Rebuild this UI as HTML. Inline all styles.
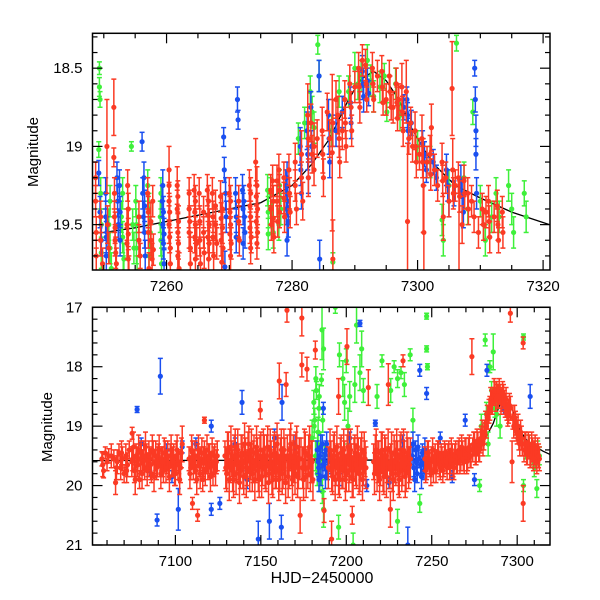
<!DOCTYPE html>
<html><head><meta charset="utf-8">
<style>
html,body{margin:0;padding:0;background:#fff;}
svg{display:block;}
text{font-family:"Liberation Sans",sans-serif;fill:#000;}
</style></head>
<body>
<svg id="chart" width="600" height="600" viewBox="0 0 600 600" xmlns="http://www.w3.org/2000/svg">
<defs>
<clipPath id="clipTop"><rect x="92.5" y="33.3" width="457.5" height="236.7"/></clipPath>
<clipPath id="clipBot"><rect x="92.5" y="307.3" width="457.5" height="237.7"/></clipPath>
</defs>
<g id="topPanel"></g>
<g id="botPanel"></g>
</svg>
<script>
// ---------- data ----------
const modelCurve = [[7050,19.58],[7240,19.57],[7250,19.55],[7255,19.52],[7260,19.48],[7265,19.44],[7270,19.4],[7275,19.36],[7280,19.25],[7283,19.12],[7286,18.95],[7289,18.7],[7291,18.57],[7293,18.52],[7295,18.58],[7297,18.7],[7299,18.88],[7301,19.02],[7303,19.13],[7306,19.25],[7310,19.33],[7315,19.42],[7321,19.5]];

const topRed = [[7249.5,19.45,.1],[7249.5,19.6,.1],[7249.8,19.75,.1],[7250.5,19.0,.3],[7250.6,19.5,.12],[7250.8,19.65,.1],
[7251.6,18.75,.18],[7251.6,19.07,.06],[7251.7,19.45,.1],[7251.8,19.6,.1],[7252,19.75,.1],
[7253.7,19.5,.1],[7253.7,19.62,.1],[7253.9,19.72,.08],[7255.6,19.45,.1],[7255.6,19.6,.1],[7255.8,19.7,.08],
[7257.5,19.48,.12],[7257.5,19.6,.1],[7257.7,19.72,.1],
[7260.4,19.15,.15],[7260.4,19.35,.12],[7260.4,19.5,.12],[7260.6,19.65,.1],[7260.6,19.75,.1],
[7261.7,19.25,.12],[7261.7,19.4,.12],[7261.8,19.55,.12],[7261.8,19.7,.1],
[7263.6,19.4,.12],[7263.6,19.55,.1],[7263.8,19.65,.1],[7263.8,19.75,.08],
[7264.6,19.35,.1],[7264.6,19.5,.1],[7264.8,19.62,.1],[7265.9,19.42,.1],[7265.9,19.55,.1],[7266,19.68,.1],
[7266.7,19.35,.1],[7266.8,19.5,.1],[7266.8,19.62,.1],[7267.8,19.38,.1],[7267.8,19.5,.1],[7268,19.62,.1],
[7268.9,19.4,.1],[7268.9,19.52,.1],[7269,19.65,.1],[7270.2,19.35,.1],[7270.2,19.5,.1],[7270.3,19.62,.1],
[7271.5,19.35,.1],[7271.5,19.48,.1],[7271.6,19.6,.1],[7273.4,19.3,.1],[7273.4,19.45,.1],[7273.5,19.58,.1],
[7274.4,19.25,.12],[7274.5,19.4,.1],[7274.5,19.55,.1],[7276.6,19.28,.1],[7276.6,19.4,.1],[7276.7,19.5,.1],
[7277.6,19.22,.1],[7277.6,19.35,.1],[7277.7,19.48,.1],[7278.7,19.2,.1],[7278.7,19.33,.1],[7278.8,19.45,.1],
[7280.5,19.1,.12],[7280.5,19.25,.1],[7280.7,19.4,.1],[7281.5,19.05,.15],[7281.5,19.2,.1],[7281.7,19.35,.12],
[7282.5,18.8,.2],[7282.6,18.95,.15],[7282.6,19.2,.12],[7283.5,19.0,.15],[7283.5,19.15,.1],
[7284.8,18.9,.15],[7284.9,19.05,.12],[7285,19.2,.12],[7286.4,19.04,.5],[7286.5,18.85,.15],[7286.5,19.72,.25],
[7287.3,18.8,.12],[7287.5,18.95,.12],[7287.6,19.1,.1],[7288.4,18.7,.12],[7288.5,18.85,.1],[7288.6,19.0,.1],
[7289.2,18.6,.12],[7289.4,18.75,.1],[7289.5,18.9,.1],[7290.6,18.5,.1],[7290.7,18.62,.1],[7290.8,18.75,.1],
[7291.7,18.48,.1],[7291.8,18.6,.1],[7291.9,18.7,.08],[7292.8,18.5,.1],[7292.9,18.6,.08],[7293,18.7,.08],
[7294.3,18.52,.1],[7294.4,18.62,.1],[7294.5,18.72,.08],[7295.5,18.55,.1],[7295.6,18.65,.1],[7295.8,18.75,.08],
[7296.6,18.6,.1],[7296.7,18.72,.1],[7296.8,18.82,.08],[7297.5,18.62,.15],[7297.6,18.78,.1],[7297.7,18.9,.1],
[7298.2,18.65,.2],[7298.4,19.48,.5],[7298.6,18.95,.1],[7299.6,18.9,.12],[7299.7,19.0,.1],[7299.8,19.1,.1],
[7300.7,18.95,.15],[7300.8,19.1,.1],[7300.9,19.25,.3],[7301,19.55,.3],[7302,19.05,.12],[7302.1,19.18,.1],[7302.2,18.88,.15],
[7303.9,19.1,.12],[7304,19.22,.1],[7304.1,19.45,.15],[7305.5,18.63,.3],[7305.6,19.15,.2],[7305.7,19.3,.1],
[7306.5,19.2,.1],[7306.7,19.32,.1],[7306.6,19.8,.5],[7307.4,19.22,.1],[7307.5,19.3,.1],[7307.1,19.5,.12],
[7308,19.3,.1],[7308.1,19.4,.1],[7310.3,19.4,.1],[7310.5,19.5,.1],[7311.3,19.35,.1],[7311.4,19.48,.1],[7311.5,19.58,.1],
[7312.7,19.38,.1],[7312.8,19.5,.1],[7312.9,19.6,.08],[7313.5,19.42,.1],[7313.6,19.55,.1]];

const topRedExtra = [[7248.7,19.2,.1],[7248.7,19.35,.1],[7248.8,19.55,.1],[7248.8,19.7,.1],
[7251.7,19.3,.1],[7251.8,19.52,.1],[7251.9,19.68,.1],[7253.8,19.25,.1],[7253.9,19.4,.1],[7253.9,19.56,.1],[7254,19.8,.1],
[7257,19.3,.1],[7257.1,19.42,.1],[7257.1,19.55,.1],[7257.2,19.78,.1],[7257.8,19.35,.1],[7257.9,19.66,.1],
[7260.4,19.25,.1],[7260.5,19.42,.1],[7260.5,19.58,.1],[7261.8,19.32,.1],[7261.9,19.48,.1],[7261.9,19.62,.1],[7262,19.78,.1],
[7263.6,19.3,.1],[7263.7,19.48,.1],[7264.4,19.28,.1],[7264.5,19.42,.1],[7264.5,19.58,.1],[7264.6,19.72,.1],
[7265.2,19.3,.1],[7265.3,19.48,.1],[7265.3,19.6,.1],[7265.4,19.75,.1],[7266.5,19.28,.1],[7266.6,19.44,.1],[7266.6,19.58,.1],[7266.7,19.72,.1],
[7267.3,19.3,.1],[7267.4,19.45,.1],[7267.4,19.58,.1],[7267.5,19.7,.1],[7268.6,19.32,.1],[7268.7,19.46,.1],[7268.7,19.6,.1],[7268.8,19.74,.1],
[7270,19.3,.1],[7270.1,19.42,.1],[7270.1,19.56,.1],[7270.2,19.7,.1],[7273.2,19.25,.1],[7273.3,19.38,.1],[7273.3,19.52,.1],[7273.4,19.65,.1],
[7274.2,19.1,.15],[7274.3,19.32,.1],[7274.3,19.48,.1],[7274.4,19.62,.1],[7276.9,19.22,.1],[7277,19.35,.1],[7277,19.46,.1],[7277.1,19.58,.1],
[7277.9,19.15,.1],[7278,19.28,.1],[7278,19.42,.1],[7279.5,19.15,.1],[7279.6,19.3,.1],[7279.7,19.42,.1],
[7283,18.85,.12],[7283.2,19.05,.12],[7284,18.95,.12],[7285.6,18.78,.12],[7286,18.95,.12],[7287,18.7,.12],[7288,18.9,.12],
[7290,18.62,.1],[7291.2,18.45,.1],[7293.6,18.55,.1],[7295,18.7,.1],[7296.1,18.75,.1],[7297,18.7,.1],[7298.9,18.85,.1],[7299.2,19.0,.1],
[7300.3,19.05,.1],[7301.5,19.1,.1],[7302.7,19.15,.1],[7303.2,19.25,.1],[7304.5,19.2,.1],[7305,19.35,.1],[7306,19.25,.1],[7308.6,19.35,.1],
[7309,19.45,.1],[7309.7,19.55,.1],[7310.9,19.42,.1],[7312.2,19.45,.1]];

const topBlue = [[7249.2,19.17,.08],[7249.4,19.42,.1],[7249.6,19.6,.1],[7250.3,19.45,.1],[7250.5,19.55,.1],[7250.4,19.7,.1],
[7252.1,19.2,.1],[7252.2,19.35,.1],[7252.3,19.5,.1],[7256.1,18.97,.06],[7256.2,19.3,.1],[7256.3,19.45,.1],
[7259.3,19.35,.1],[7259.4,19.5,.1],[7259.5,19.62,.1],[7259.6,19.75,.1],[7269.1,18.94,.06],[7269.2,19.15,.08],[7269.3,19.77,.1],
[7271.3,18.7,.08],[7271.4,18.83,.06],[7272.3,19.35,.1],[7272.4,19.45,.1],[7272.5,19.55,.1],
[7279.2,19.2,.1],[7279.3,19.35,.1],[7279.4,19.48,.1],[7281.3,19.0,.12],[7281.4,19.15,.1],[7281.5,19.3,.1],
[7282.4,18.9,.12],[7282.5,19.05,.1],[7282.6,19.2,.1],[7284.3,18.55,.1],[7284.4,19.72,.12],
[7285.8,18.8,.1],[7285.9,18.95,.1],[7286,19.1,.1],[7289.3,18.72,.1],[7289.4,18.85,.1],
[7291.2,18.52,.1],[7291.3,18.6,.1],[7291.4,18.68,.1],[7298.3,18.7,.08],[7298.4,18.8,.08],[7298.5,18.9,.08],
[7300.8,18.98,.08],[7301.1,19.05,.08],[7301.4,19.15,.08],[7304.6,19.15,.1],[7304.8,19.25,.1],[7305,19.35,.1],
[7306.9,19.22,.1],[7307.1,19.32,.1],[7307.3,19.42,.1],[7309.1,18.5,.05],[7309.2,18.7,.08],[7309.3,18.9,.1],[7309.3,19.05,.1],[7309.4,19.3,.1]];

const topBlueExtra = [[7250.3,19.3,.1],[7250.4,19.58,.1],[7252.5,19.25,.1],[7252.6,19.42,.1],[7252.6,19.6,.1],
[7256.4,19.2,.1],[7256.5,19.38,.1],[7256.5,19.55,.1],[7256.6,19.7,.1],[7259.4,19.25,.1],[7259.5,19.42,.1],[7259.6,19.56,.1],
[7269.4,19.3,.1],[7269.5,19.45,.1],[7271,19.3,.1],[7271.1,19.45,.1],[7271.1,19.58,.1],[7272.1,19.28,.1],[7272.2,19.4,.1],[7272.2,19.62,.1],
[7279,19.25,.1],[7279.1,19.4,.1],[7279.2,19.6,.1],[7283,18.75,.1],[7283.1,19.0,.1],[7287,18.9,.1],[7288,18.78,.1],
[7292,18.58,.08],[7292.2,18.66,.08],[7297.8,18.75,.08],[7299,18.85,.08],[7302.5,19.1,.08],[7303,19.2,.08],[7305.8,19.3,.08]];

const topGreen = [[7249.3,18.5,.04],[7249.3,18.62,.06],[7249.4,18.7,.05],[7249.2,19.02,.05],
[7250.8,19.5,.1],[7251,19.65,.1],[7251.2,19.78,.1],[7252.8,19.45,.1],[7253,19.58,.1],[7253.2,19.72,.1],
[7254.4,19.0,.03],[7254.6,19.5,.1],[7254.8,19.65,.1],[7257,19.25,.1],[7257.2,19.4,.1],[7257.4,19.55,.1],
[7259,19.45,.1],[7259.1,19.6,.1],[7259.2,19.75,.1],[7276.6,19.3,.1],[7276.8,19.45,.1],[7277,19.55,.1],
[7278,19.25,.1],[7278.2,19.4,.1],[7282.9,18.65,.1],[7283.2,18.78,.1],[7283.5,18.88,.1],
[7284.1,18.35,.06],[7284.3,18.55,.1],[7286.3,18.9,.1],[7286.5,19.74,.06],[7287.5,18.65,.1],[7288,18.78,.1],
[7290,18.5,.1],[7290.5,18.6,.1],[7292,18.45,.1],[7292.5,18.58,.1],[7293,18.68,.1],
[7294.7,18.55,.08],[7295.1,18.78,.06],[7296.5,18.6,.1],[7303.9,19.47,.1],[7304.1,19.6,.1],
[7306.2,18.34,.05],[7307.4,19.2,.1],[7308.8,18.78,.08],[7310,19.35,.1],[7310.5,19.5,.1],[7310.8,19.6,.1],
[7312.5,19.3,.1],[7313,19.45,.1],[7314.5,19.25,.1],[7315,19.4,.1],[7315.3,19.55,.1],[7317,19.3,.08],[7317.3,19.45,.1]];

const topGreenExtra = [[7249.5,19.3,.1],[7249.6,19.5,.1],[7249.6,19.68,.1],[7251,19.35,.1],[7253,19.3,.1],[7253.1,19.8,.1],
[7255.1,19.35,.1],[7255.2,19.5,.1],[7255.2,19.65,.1],[7255.3,19.8,.1],[7257.2,19.7,.1],[7259.1,19.3,.1],
[7276.1,19.28,.1],[7276.2,19.42,.1],[7276.2,19.56,.1],[7277.9,19.5,.1],[7281,18.95,.1],[7282,18.85,.1],
[7289,18.65,.1],[7291,18.55,.1],[7294,18.62,.1],[7297.2,18.8,.1],[7300,19.0,.1],[7302,19.1,.1],[7305,19.25,.1],[7308,19.4,.1],[7311.8,19.45,.1]];

const botGreen = [[7180,19.2,.3],[7181,18.6,.2],[7181.5,18.9,.2],[7182,19.5,.25],[7182.5,18.4,.15],[7183,19.8,.2],[7183.5,19.1,.25],
[7184,18.7,.2],[7184.5,19.9,.2],[7185,19.4,.3],[7185.8,17.38,.5],[7185.5,18.22,.1],[7186,20.1,.2],[7186.7,17.7,.35],[7186.7,20.4,.3],
[7193.6,17.0,.1],[7195.5,20.7,.2],[7198,18.2,.3],[7200,17.9,.2],[7202,18.5,.25],[7204,21.0,.2],[7206,17.3,.3],[7208,18.1,.3],[7210,18.4,.2],
[7220.9,17.9,.1],[7228,18.0,.1],[7230,18.2,.15],[7230,20.6,.2],[7232,18.1,.1],[7237.4,17.8,.1],[7243,20.3,.15],
[7247,17.15,.05],[7247,17.7,.05],[7247.5,18.0,.05],[7278,20.0,.1],[7281.3,17.55,.1],[7284,18.0,.1],[7285,18.4,.15],
[7286,17.75,.3],[7287,18.7,.15],[7289,18.5,.2],[7303.7,17.5,.05],[7303.7,20.0,.1],[7307,19.3,.15],[7309,19.5,.15],[7311.5,20.05,.15],[7312,19.4,.15],
[7181.2,19.0,.2],[7182.2,18.2,.2],[7183.2,19.3,.2],[7184.2,18.5,.2],[7185.2,19.7,.2],[7186.2,18.9,.2],[7187.2,19.5,.2],
[7196,17.8,.2],[7199,18.6,.3],[7201,19.0,.3],[7205,18.3,.3],[7209,17.7,.3],[7218,18.5,.2],[7226,18.4,.2],[7234,18.3,.2],[7239,18.9,.2],
[7279,19.0,.2],[7282,18.8,.2],[7283,19.3,.2],[7288,18.8,.2],[7290,19.0,.2],[7305,19.4,.15],[7310,19.7,.15],[7313,19.5,.15]];

const botBlue = [[7077.6,18.72,.05],[7080,19.3,.1],[7085,19.75,.1],[7089.3,20.58,.1],[7091.2,18.16,.3],[7095,19.4,.1],[7098,19.85,.1],
[7101.7,20.4,.35],[7104,19.35,.1],[7112,19.3,.1],[7121,19.0,.1],[7121,20.4,.1],[7126,20.3,.1],[7135,19.3,.1],[7139,18.6,.2],
[7142,19.9,.15],[7148.5,20.9,.3],[7155,20.6,.3],[7158,19.2,.15],[7162.4,18.6,.3],[7162,20.7,.2],[7170,19.3,.15],
[7183,19.4,.15],[7183.8,19.7,.15],[7184.5,19.5,.15],[7185.2,19.85,.15],[7186,19.3,.15],[7186.6,18.7,.1],[7187.2,19.6,.15],[7188,19.4,.15],[7189,19.75,.15],
[7190,19.5,.1],[7196,19.9,.1],[7202,19.2,.1],[7208,17.27,.05],[7212,20.0,.1],[7217,18.95,.05],[7225,19.95,.1],[7233,19.25,.1],
[7236,21.0,.3],[7238.5,19.5,.15],[7239.5,19.7,.15],[7240.5,19.4,.15],[7241.5,19.8,.15],[7242.5,19.55,.15],[7243,18.06,.1],[7243.5,19.65,.15],[7244.5,19.45,.15],[7245.5,19.75,.15],
[7247,18.45,.1],[7255,19.2,.1],[7262,19.85,.1],[7269.6,18.9,.1],[7275,19.9,.1],[7282.3,18.06,.1],[7292,18.7,.1],[7300,19.1,.1],[7307.6,18.5,.2],
[7183.5,19.6,.2],[7184,19.9,.2],[7185,19.35,.2],[7186.3,19.65,.2],[7187.8,19.85,.2],[7188.5,19.3,.2],[7189.5,19.6,.2],
[7239,19.3,.2],[7240,19.9,.2],[7241,19.6,.2],[7242,19.35,.2],[7244,19.85,.2],[7245,19.6,.2],[7246,19.4,.2]];

const botRed = [[7057,19.55,.12],[7058,19.75,.12],[7059,19.45,.1],[7060,19.6,.15],[7061,19.5,.12],
[7064,19.55,.15],[7065,19.95,.2],[7066,19.6,.2],[7067,19.45,.15],[7068,19.7,.2],[7069,19.55,.2],[7070,19.8,.15],[7071,19.5,.2],[7072,19.65,.2],[7073,19.4,.15],
[7074.7,19.12,.1],[7075,19.55,.2],[7076,19.75,.2],[7077,19.5,.2],[7078,19.65,.2],[7079,19.9,.15],[7080,19.45,.2],[7081,19.6,.2],[7082,19.7,.2],[7083,19.5,.2],
[7084,19.65,.2],[7085,19.55,.2],[7086,19.8,.15],[7087,19.45,.2],[7088,19.6,.2],[7089,19.7,.2],[7090,19.5,.2],[7091,19.65,.2],[7092,19.55,.2],[7093,19.75,.2],
[7094,19.45,.2],[7095,19.6,.2],[7096,19.7,.2],[7097,19.5,.2],[7098,19.65,.2],[7099,19.55,.25],[7100,19.8,.2],[7101,19.4,.25],[7102,19.6,.2],[7103,19.7,.25],[7104,19.3,.3],
[7108,19.55,.2],[7109,19.7,.2],[7110,19.45,.2],[7110,20.3,.1],[7111,19.6,.2],[7112,19.75,.2],[7113,19.5,.2],[7113,20.5,.1],[7114,19.65,.2],[7115,19.55,.2],[7116,19.9,.2],
[7117,19.45,.2],[7117,18.9,.05],[7118,19.6,.2],[7119,19.7,.2],[7120,19.5,.2],[7121,19.65,.2],[7122,19.8,.2],[7123,19.5,.2],[7124,19.6,.2],
[7129,19.5,.25],[7130,19.8,.3],[7131,19.4,.3],[7132,19.7,.25],[7133,19.55,.3],[7134,19.9,.3],[7135,19.35,.3],[7136,19.65,.3],[7137,19.6,.3],[7138,19.75,.3],
[7139,19.45,.3],[7140,19.85,.3],[7141,19.5,.3],[7142,19.7,.3],[7143,19.3,.3],[7144,19.6,.3],[7145,19.8,.3],[7146,19.45,.3],[7147,19.65,.3],[7148,19.55,.35],
[7149,19.9,.3],[7149.7,18.73,.15],[7150,19.4,.3],[7151,19.7,.3],[7152,19.5,.35],[7153,19.8,.3],[7154,19.35,.35],[7155,19.65,.3],[7156,19.6,.35],[7157,19.9,.3],
[7158,19.45,.35],[7159,19.75,.3],[7160,19.5,.35],[7160.8,18.24,.3],[7161,19.8,.3],[7162,19.4,.35],[7163,19.7,.35],[7164,19.55,.35],[7164.8,18.3,.2],[7165.3,17.05,.2],
[7166,19.85,.35],[7167,19.4,.35],[7168,19.65,.35],[7169,19.5,.35],[7170,19.8,.35],[7171,19.35,.35],[7172,19.7,.35],[7173,20.5,.3],[7173.5,19.55,.35],[7174,17.18,.3],[7174,17.97,.2],
[7175,19.9,.35],[7176,19.45,.35],[7177,18.04,.2],[7177.5,19.7,.35],[7178,19.5,.35],[7179,19.8,.3],[7180,19.6,.35],[7181.9,17.72,.15],[7187,20.42,.2],
[7191,19.55,.3],[7191.4,20.9,.3],[7192,19.85,.3],[7193,19.4,.3],[7194,19.7,.3],[7195,19.6,.3],[7195.5,18.5,.3],[7196,19.9,.3],[7197,19.45,.3],[7198,19.75,.3],
[7199,19.55,.3],[7200,19.8,.3],[7200.4,17.66,.3],[7201,19.35,.3],[7202,19.65,.3],[7203,19.6,.3],[7203.5,20.5,.15],[7204,19.9,.3],[7205,19.45,.3],[7206,19.75,.3],
[7207,19.5,.3],[7208,19.8,.3],[7209,19.4,.3],[7210,19.7,.3],[7211,19.55,.3],[7212.9,18.35,.3],
[7216,19.6,.3],[7217,19.45,.3],[7218,19.8,.3],[7219,19.55,.3],[7220,19.7,.3],[7221,19.4,.3],[7222,19.85,.3],[7223,19.5,.3],[7224,19.65,.3],[7224.6,18.3,.35],
[7225.8,20.4,.3],[7226,19.6,.3],[7227,19.8,.3],[7228,19.45,.3],[7229,19.7,.3],[7230,19.55,.3],[7231,19.9,.3],[7232,19.4,.3],[7233,19.7,.3],[7233.2,17.9,.1],
[7234,19.55,.3],[7235,19.8,.3],[7236,19.5,.3],[7237,19.65,.3],
[7246,19.55,.2],[7247,19.7,.2],[7248,19.45,.2],[7249,19.65,.2],[7250,19.55,.2],[7251,19.75,.2],[7252,19.5,.2],[7253,19.6,.2],[7254,19.45,.2],[7255,19.7,.2],
[7256,19.55,.2],[7257,19.65,.2],[7258,19.5,.2],[7259,19.7,.2],[7260,19.45,.2],[7261,19.6,.2],[7262,19.5,.2],[7263,19.7,.2],[7264,19.45,.2],[7265,19.6,.2],
[7266,19.4,.2],[7267,19.55,.2],[7268,19.45,.2],[7269,19.6,.2],[7270,19.4,.2],[7271,19.55,.2],[7272,19.35,.2],[7273,19.5,.2],[7273.5,17.83,.3],[7274,19.4,.2],
[7275,19.3,.2],[7276,19.45,.2],[7277,19.3,.2],[7278,19.4,.2],[7279,19.2,.2],[7280,19.3,.2],[7281,19.1,.2],[7282,19.0,.2],[7283,18.85,.2],[7284,18.7,.2],
[7285,18.6,.2],[7286,18.5,.15],[7287,18.45,.2],[7288,18.4,.15],[7289,18.5,.2],[7290,18.45,.15],[7291,18.55,.2],[7292,18.5,.2],[7293,18.65,.2],[7294,18.7,.2],
[7295,18.75,.2],[7296,17.1,.15],[7296,18.7,.2],[7297,19.6,.35],[7297.5,18.85,.2],[7298,19.0,.2],[7299,18.95,.2],[7300,19.1,.2],[7301,19.2,.2],[7302,19.1,.2],
[7303,19.3,.2],[7303.5,17.6,.1],[7303.5,20.3,.3],[7304,19.4,.2],[7305,19.3,.2],[7306,19.45,.2],[7307,19.35,.2],[7308,19.5,.2],[7309,19.4,.2],[7310,19.45,.2],
[7311,19.5,.2],[7312,19.4,.2],[7313,19.55,.2]];

const botRedExtra = [[7057.5,19.65,.2],[7062.5,19.5,.2],[7065.5,19.7,.2],[7068.5,19.45,.2],[7071.5,19.75,.2],[7074.5,19.6,.25],[7075.5,19.35,.25],[7076.5,19.9,.25],
[7077.5,19.6,.25],[7078.5,19.4,.25],[7079.5,19.55,.25],[7080.5,19.8,.25],[7081.5,19.5,.25],[7082.5,19.35,.25],[7083.5,19.75,.25],[7084.5,19.5,.25],[7085.5,19.65,.25],
[7086.5,19.4,.25],[7087.5,19.85,.25],[7088.5,19.5,.25],[7089.5,19.6,.25],[7090.5,19.4,.25],[7091.5,19.8,.25],[7092.5,19.6,.25],[7093.5,19.45,.25],[7094.5,19.7,.25],
[7095.5,19.5,.25],[7096.5,19.85,.25],[7097.5,19.4,.25],[7098.5,19.6,.25],[7099.5,19.75,.25],[7100.5,19.5,.25],[7101.5,19.65,.25],[7102.5,19.9,.25],[7103.5,19.45,.25],
[7108.5,19.8,.25],[7109.5,19.4,.25],[7110.5,19.65,.25],[7111.5,19.5,.25],[7112.5,19.9,.25],[7113.5,19.4,.25],[7114.5,19.8,.25],[7115.5,19.45,.25],[7116.5,19.6,.25],
[7117.5,19.75,.25],[7118.5,19.4,.25],[7119.5,19.55,.25],[7120.5,19.85,.25],[7121.5,19.45,.25],[7122.5,19.6,.25],[7123.5,19.75,.25],[7124.5,19.5,.25],
[7129.5,19.7,.35],[7130.5,19.45,.35],[7131.5,19.9,.35],[7132.5,19.35,.35],[7133.5,19.75,.35],[7134.5,19.5,.35],[7135.5,19.8,.35],[7136.5,19.4,.35],[7137.5,19.95,.35],
[7138.5,19.5,.35],[7139.5,19.7,.35],[7140.5,19.3,.35],[7141.5,19.85,.35],[7142.5,19.45,.35],[7143.5,19.75,.35],[7144.5,19.4,.35],[7145.5,19.6,.35],[7146.5,19.9,.35],
[7147.5,19.35,.35],[7148.5,19.75,.35],[7149.5,19.5,.35],[7150.5,19.85,.35],[7151.5,19.4,.35],[7152.5,19.7,.35],[7153.5,19.5,.35],[7154.5,19.95,.35],[7155.5,19.4,.35],
[7156.5,19.8,.35],[7157.5,19.5,.35],[7158.5,19.7,.35],[7159.5,19.3,.35],[7160.5,19.9,.35],[7161.5,19.55,.35],[7162.5,19.8,.35],[7163.5,19.4,.35],[7164.5,19.95,.35],
[7165.5,19.5,.35],[7166.5,19.7,.35],[7167.5,19.3,.35],[7168.5,19.9,.35],[7169.5,19.6,.35],[7170.5,19.45,.35],[7171.5,19.85,.35],[7172.5,19.55,.35],[7174.5,19.7,.35],
[7175.5,19.4,.35],[7176.5,19.85,.35],[7178.5,19.35,.35],[7179.5,19.6,.35],[7180.5,19.9,.35],[7189.5,19.7,.35],
[7190.5,19.4,.35],[7191.5,19.75,.35],[7192.5,19.5,.35],[7193.5,19.9,.35],[7194.5,19.35,.35],[7195.5,19.8,.35],[7196.5,19.55,.35],[7197.5,19.7,.35],[7198.5,19.4,.35],
[7199.5,19.9,.35],[7200.5,19.5,.35],[7201.5,19.75,.35],[7202.5,19.4,.35],[7203.5,19.85,.35],[7204.5,19.55,.35],[7205.5,19.65,.35],[7206.5,19.35,.35],[7207.5,19.8,.35],
[7208.5,19.55,.35],[7209.5,19.9,.35],[7210.5,19.45,.35],[7211.5,19.7,.35],
[7216.5,19.8,.35],[7217.5,19.4,.35],[7218.5,19.6,.35],[7219.5,19.9,.35],[7220.5,19.45,.35],[7221.5,19.75,.35],[7222.5,19.5,.35],[7223.5,19.85,.35],[7224.5,19.4,.35],
[7225.5,19.7,.35],[7226.5,19.45,.35],[7227.5,19.9,.35],[7228.5,19.6,.35],[7229.5,19.4,.35],[7230.5,19.8,.35],[7231.5,19.5,.35],[7232.5,19.75,.35],[7233.5,19.4,.35],
[7234.5,19.85,.35],[7235.5,19.45,.35],[7236.5,19.7,.35],[7237.5,19.55,.35],
[7246.5,19.75,.2],[7247.5,19.45,.2],[7248.5,19.6,.2],[7249.5,19.8,.2],[7250.5,19.4,.2],[7251.5,19.6,.2],[7252.5,19.75,.2],[7253.5,19.45,.2],[7254.5,19.65,.2],
[7255.5,19.5,.2],[7256.5,19.75,.2],[7257.5,19.45,.2],[7258.5,19.6,.2],[7259.5,19.5,.2],[7260.5,19.7,.2],[7261.5,19.4,.2],[7262.5,19.65,.2],[7263.5,19.5,.2],
[7264.5,19.6,.2],[7265.5,19.45,.2],[7266.5,19.6,.2],[7267.5,19.35,.2],[7268.5,19.55,.2],[7269.5,19.4,.2],[7270.5,19.6,.2],[7271.5,19.4,.2],[7272.5,19.5,.2],
[7274.5,19.3,.2],[7275.5,19.45,.2],[7276.5,19.25,.2],[7277.5,19.4,.2],[7278.5,19.25,.2],[7279.5,19.1,.2],[7280.5,19.2,.2],[7281.5,18.95,.2],[7282.5,18.85,.2],
[7283.5,18.75,.2],[7284.5,18.55,.2],[7285.5,18.6,.2],[7286.5,18.4,.2],[7287.5,18.55,.2],[7288.5,18.5,.2],[7289.5,18.4,.2],[7290.5,18.6,.2],[7291.5,18.45,.2],
[7292.5,18.6,.2],[7293.5,18.55,.2],[7294.5,18.8,.2],[7295.5,18.65,.2],[7298.5,18.85,.2],[7299.5,19.05,.2],[7300.5,19.0,.2],[7301.5,19.3,.2],[7302.5,19.2,.2],
[7304.5,19.3,.2],[7305.5,19.45,.2],[7306.5,19.3,.2],[7307.5,19.5,.2],[7308.5,19.3,.2],[7309.5,19.55,.2],[7310.5,19.35,.2],[7311.5,19.6,.2],[7312.5,19.5,.2]];

const topXTicks = [7260,7280,7300,7320];
const topYTicks = [18.5,19,19.5];
const botXTicks = [7100,7150,7200,7250,7300];
const botYTicks = [17,18,19,20,21];

// ---------- drawing ----------
const NS = "http://www.w3.org/2000/svg";
const COLORS = {red:"#fb3a24", blue:"#1a4ff0", green:"#3ef03a"};
function mk(tag, attrs, parent){ const e=document.createElementNS(NS,tag); for(const k in attrs) e.setAttribute(k,attrs[k]); parent.appendChild(e); return e; }

function panel(g, clipId, L, R, T, B, x0, x1, y0, y1, xMinor, yMinor, xTicks, yTicks, series, labelX, labelY, tickLabelY){
  const sx = d => L + (d - x0) / (x1 - x0) * (R - L);
  const sy = m => T + (m - y0) / (y1 - y0) * (B - T);
  const plot = mk("g", {"clip-path":"url(#"+clipId+")"}, g);
  
  
  let dstr = modelCurve.map((p,i)=>(i?"L":"M")+sx(p[0]).toFixed(1)+","+sy(p[1]).toFixed(1)).join("");
  const mc = mk("path", {d:dstr, fill:"none", stroke:"#000", "stroke-width":"1.3"}, plot);
  
  
  series.forEach(s=>{
    const sg = mk("g", {stroke:COLORS[s.color], fill:COLORS[s.color], "stroke-width":"1.5"}, plot);
    
    
    s.data.forEach(p=>{
      const x=sx(p[0]), y=sy(p[1]), ya=sy(p[1]-p[2]), yb=sy(p[1]+p[2]);
      const pt = mk("g", {}, sg);
      
      
      mk("line",{x1:x,x2:x,y1:ya,y2:yb},pt);
      mk("line",{x1:x-2.5,x2:x+2.5,y1:ya,y2:ya},pt);
      mk("line",{x1:x-2.5,x2:x+2.5,y1:yb,y2:yb},pt);
      mk("circle",{cx:x,cy:y,r:2.6,stroke:"none"},pt);
    });
  });
  const fr = mk("rect",{x:L,y:T,width:R-L,height:B-T,fill:"none",stroke:"#000","stroke-width":"1.5"},g);
  
  
  const tk = mk("g",{stroke:"#000","stroke-width":"1.2"},g);
  
  
  const isMaj=(v,arr)=>arr.some(t=>Math.abs(t-v)<1e-6);
  for(let v=Math.ceil(x0/xMinor)*xMinor; v<=x1; v+=xMinor){
    const x=sx(v), len=isMaj(v,xTicks)?10:5;
    mk("line",{x1:x,x2:x,y1:B,y2:B-len},tk); mk("line",{x1:x,x2:x,y1:T,y2:T+len},tk);
  }
  for(let k=Math.ceil(y0/yMinor-1e-6); k*yMinor<=y1+1e-6; k++){
    const v=+(k*yMinor).toFixed(4);
    const y=sy(v), len=isMaj(v,yTicks)?10:5;
    mk("line",{x1:L,x2:L+len,y1:y,y2:y},tk); mk("line",{x1:R,x2:R-len,y1:y,y2:y},tk);
  }
  xTicks.forEach(v=>{
    const t=mk("text",{x:sx(v),y:tickLabelY,"text-anchor":"middle","font-size":"15"},g);
    t.textContent=v;
    
    
  });
  yTicks.forEach(v=>{
    const t=mk("text",{x:L-10,y:sy(v)+5,"text-anchor":"end","font-size":"15"},g);
    t.textContent=String(v);
    
    
  });
  const yl=mk("text",{x:labelX,y:labelY,"text-anchor":"middle","font-size":"15",transform:"rotate(-90 "+labelX+" "+labelY+")"},g);
  yl.textContent="Magnitude";
  
  
}

panel(document.getElementById("topPanel"),"clipTop",92.5,550,33.3,270,7248.2,7321.1,18.277,19.79,5,0.1,topXTicks,topYTicks,
  [{name:"green-series-top",color:"green",data:topGreen.concat(topGreenExtra)},{name:"blue-series-top",color:"blue",data:topBlue.concat(topBlueExtra)},{name:"red-series-top",color:"red",data:topRed.concat(topRedExtra)}],
  38,152,291);
panel(document.getElementById("botPanel"),"clipBot",92.5,550,307.3,545,7051.5,7319.2,17,21,10,0.2,botXTicks,botYTicks,
  [{name:"green-series-bottom",color:"green",data:botGreen},{name:"blue-series-bottom",color:"blue",data:botBlue},{name:"red-series-bottom",color:"red",data:botRed.concat(botRedExtra)}],
  52,427,566);
const xl=mk("text",{x:322,y:583,"text-anchor":"middle","font-size":"16"},document.getElementById("chart"));
xl.textContent="HJD−2450000";


</script>
</body></html>
